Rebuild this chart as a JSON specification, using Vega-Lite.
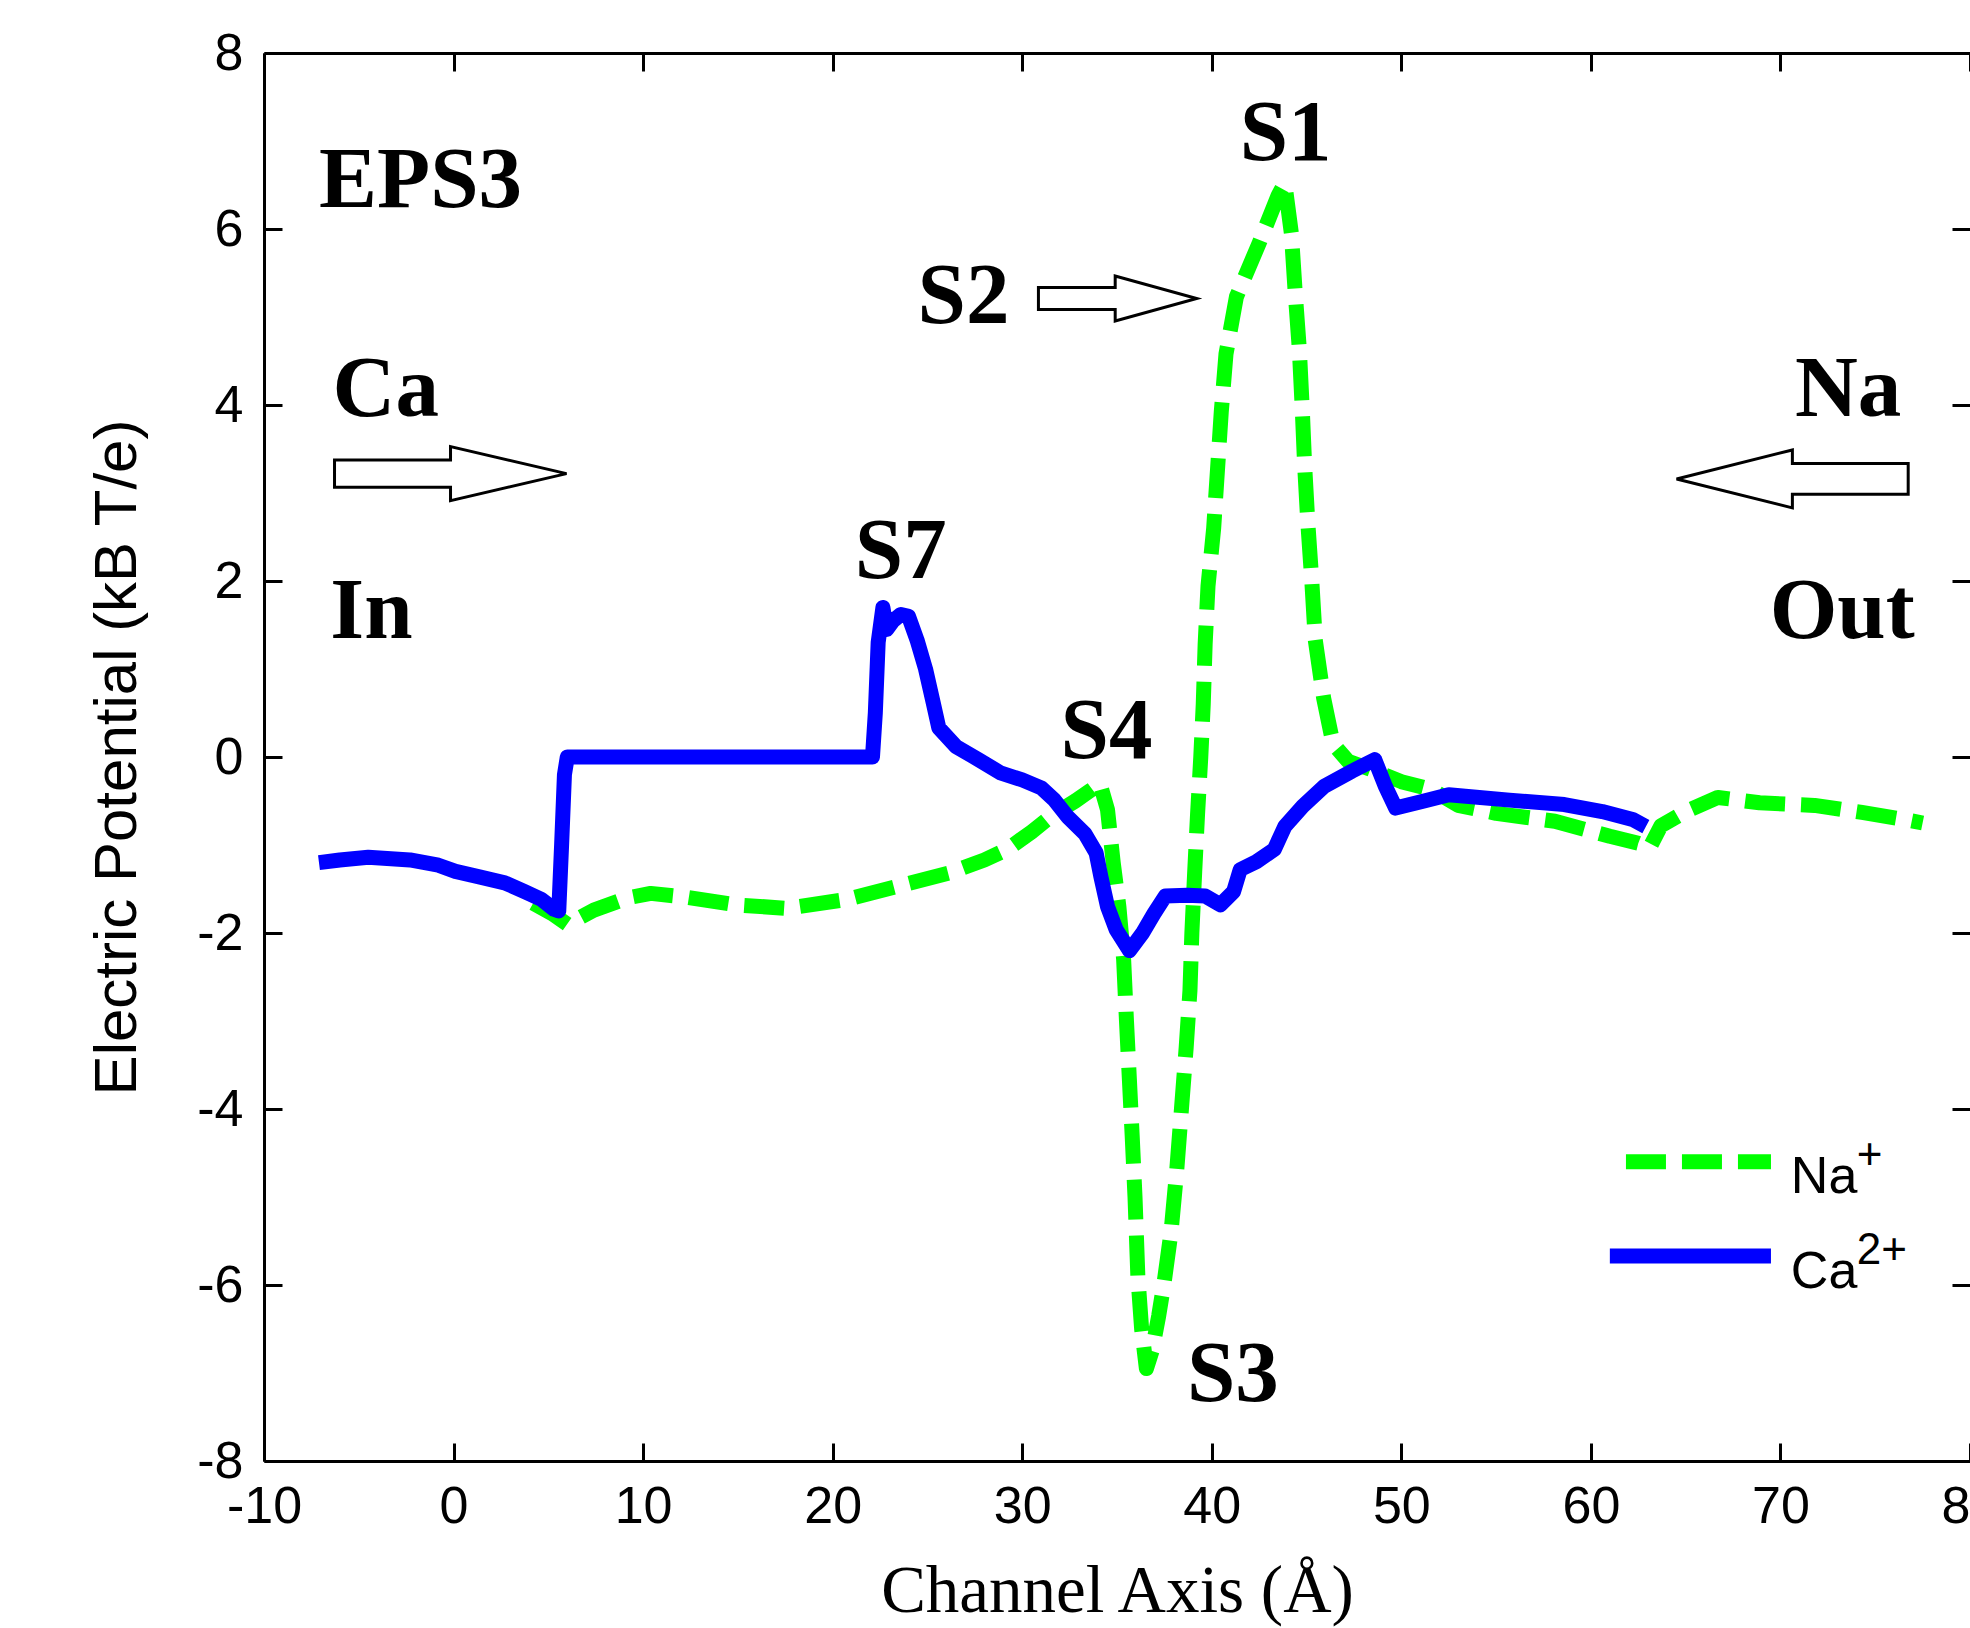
{
  "$schema": "https://vega.github.io/schema/vega-lite/v6.json",
  "width": 1706,
  "height": 1408,
  "autosize": {"type": "none"},
  "padding": {"left": 264, "top": 53, "right": 0, "bottom": 167},
  "background": "white",
  "config": {"view": {"stroke": null}, "axis": {"grid": false}},
  "datasets": {
    "na": [
      {"x": 4.2, "y": -1.66}, {"x": 5.2, "y": -1.78}, {"x": 6.0, "y": -1.9}, {"x": 7.4, "y": -1.74},
      {"x": 9.2, "y": -1.6}, {"x": 10.4, "y": -1.55}, {"x": 12.2, "y": -1.59}, {"x": 14.9, "y": -1.68},
      {"x": 17.6, "y": -1.72}, {"x": 20.7, "y": -1.62}, {"x": 23.4, "y": -1.47}, {"x": 26.1, "y": -1.32},
      {"x": 28.0, "y": -1.17}, {"x": 29.2, "y": -1.05}, {"x": 30.5, "y": -0.85}, {"x": 31.6, "y": -0.66},
      {"x": 32.8, "y": -0.5}, {"x": 33.6, "y": -0.38}, {"x": 34.1, "y": -0.3}, {"x": 34.5, "y": -0.6},
      {"x": 34.8, "y": -1.2}, {"x": 35.1, "y": -1.7}, {"x": 35.35, "y": -2.3}, {"x": 35.5, "y": -3.0},
      {"x": 35.65, "y": -3.65}, {"x": 35.8, "y": -4.3}, {"x": 35.95, "y": -5.0}, {"x": 36.1, "y": -5.9},
      {"x": 36.3, "y": -6.5}, {"x": 36.55, "y": -6.95}, {"x": 36.85, "y": -6.75}, {"x": 37.2, "y": -6.35},
      {"x": 37.5, "y": -5.95}, {"x": 37.85, "y": -5.4}, {"x": 38.15, "y": -4.7}, {"x": 38.4, "y": -4.0},
      {"x": 38.65, "y": -3.3}, {"x": 38.85, "y": -2.65}, {"x": 38.95, "y": -2.0}, {"x": 39.1, "y": -1.3},
      {"x": 39.25, "y": -0.65}, {"x": 39.42, "y": 0.0}, {"x": 39.55, "y": 0.6}, {"x": 39.65, "y": 1.28},
      {"x": 39.8, "y": 1.94}, {"x": 40.1, "y": 2.6}, {"x": 40.3, "y": 3.26}, {"x": 40.5, "y": 3.92},
      {"x": 40.75, "y": 4.58}, {"x": 41.3, "y": 5.23}, {"x": 42.5, "y": 5.84}, {"x": 43.5, "y": 6.38},
      {"x": 43.85, "y": 6.52}, {"x": 44.2, "y": 5.95}, {"x": 44.4, "y": 5.28}, {"x": 44.62, "y": 4.63},
      {"x": 44.77, "y": 3.97}, {"x": 44.9, "y": 3.31}, {"x": 45.07, "y": 2.65}, {"x": 45.28, "y": 1.99},
      {"x": 45.46, "y": 1.33}, {"x": 45.9, "y": 0.67}, {"x": 46.4, "y": 0.15}, {"x": 47.2, "y": -0.05},
      {"x": 48.5, "y": -0.15}, {"x": 50.0, "y": -0.28}, {"x": 51.6, "y": -0.37}, {"x": 53.0, "y": -0.55},
      {"x": 55.0, "y": -0.64}, {"x": 58.1, "y": -0.73}, {"x": 61.0, "y": -0.9}, {"x": 62.5, "y": -0.98},
      {"x": 63.1, "y": -1.03}, {"x": 63.7, "y": -0.78}, {"x": 65.0, "y": -0.62}, {"x": 66.7, "y": -0.46},
      {"x": 68.9, "y": -0.52}, {"x": 71.8, "y": -0.55}, {"x": 74.3, "y": -0.63}, {"x": 76.8, "y": -0.72},
      {"x": 77.5, "y": -0.75}
    ],
    "ca": [
      {"x": -7.1, "y": -1.2}, {"x": -6.0, "y": -1.17}, {"x": -4.5, "y": -1.14}, {"x": -2.3, "y": -1.17},
      {"x": -0.8, "y": -1.23}, {"x": 0.1, "y": -1.3}, {"x": 1.3, "y": -1.36}, {"x": 2.7, "y": -1.43},
      {"x": 3.75, "y": -1.53}, {"x": 4.65, "y": -1.62}, {"x": 5.3, "y": -1.73}, {"x": 5.55, "y": -1.75},
      {"x": 5.7, "y": -1.0}, {"x": 5.85, "y": -0.2}, {"x": 6.0, "y": 0.0}, {"x": 22.1, "y": 0.0},
      {"x": 22.25, "y": 0.5}, {"x": 22.4, "y": 1.3}, {"x": 22.65, "y": 1.7}, {"x": 22.85, "y": 1.45},
      {"x": 23.2, "y": 1.55}, {"x": 23.6, "y": 1.62}, {"x": 24.0, "y": 1.6}, {"x": 24.45, "y": 1.33},
      {"x": 24.9, "y": 1.0}, {"x": 25.3, "y": 0.62}, {"x": 25.6, "y": 0.33}, {"x": 26.5, "y": 0.12},
      {"x": 27.7, "y": -0.03}, {"x": 28.85, "y": -0.18}, {"x": 30.0, "y": -0.26}, {"x": 31.0, "y": -0.35},
      {"x": 31.7, "y": -0.49}, {"x": 32.4, "y": -0.68}, {"x": 33.3, "y": -0.87}, {"x": 33.9, "y": -1.09},
      {"x": 34.15, "y": -1.36}, {"x": 34.5, "y": -1.7}, {"x": 34.95, "y": -1.96}, {"x": 35.66, "y": -2.2},
      {"x": 36.35, "y": -2.0}, {"x": 36.95, "y": -1.78}, {"x": 37.55, "y": -1.58}, {"x": 38.7, "y": -1.57},
      {"x": 39.65, "y": -1.58}, {"x": 40.45, "y": -1.68}, {"x": 41.15, "y": -1.53}, {"x": 41.5, "y": -1.28},
      {"x": 42.35, "y": -1.19}, {"x": 43.3, "y": -1.05}, {"x": 43.85, "y": -0.79}, {"x": 44.8, "y": -0.56},
      {"x": 45.95, "y": -0.33}, {"x": 47.4, "y": -0.16}, {"x": 48.6, "y": -0.03}, {"x": 49.15, "y": -0.33},
      {"x": 49.7, "y": -0.58}, {"x": 51.2, "y": -0.5}, {"x": 52.5, "y": -0.43}, {"x": 55.7, "y": -0.49},
      {"x": 58.6, "y": -0.54}, {"x": 60.6, "y": -0.62}, {"x": 62.2, "y": -0.71}, {"x": 62.9, "y": -0.79}
    ],
    "notes": [
      {"t": "EPS3", "x": -7.1, "y": 6.25},
      {"t": "Ca", "x": -6.38, "y": 3.87},
      {"t": "In", "x": -6.5, "y": 1.35},
      {"t": "S7", "x": 21.17, "y": 2.03},
      {"t": "S4", "x": 32.02, "y": -0.01},
      {"t": "S2", "x": 24.48, "y": 4.93},
      {"t": "S1", "x": 41.47, "y": 6.78},
      {"t": "S3", "x": 38.69, "y": -7.32},
      {"t": "Na", "x": 70.77, "y": 3.87},
      {"t": "Out", "x": 69.43, "y": 1.35}
    ],
    "arrows": [
      {"id": "ca", "x": -0.16, "y": 3.22},
      {"id": "na", "x": 70.63, "y": 3.16},
      {"id": "s2", "x": 35.03, "y": 5.21}
    ],
    "legend": [
      {"s": "Na+", "x": 61.85, "x2": 69.5, "y": -4.6, "lx": 70.55, "ly": -4.96, "lab": "Na", "sup": "+"},
      {"s": "Ca2+", "x": 61.0, "x2": 69.5, "y": -5.67, "lx": 70.55, "ly": -6.03, "lab": "Ca", "sup": "2+"}
    ]
  },
  "layer": [
    {
      "data": {"name": "na"},
      "mark": {"type": "line", "color": "#00ff00", "strokeWidth": 15, "strokeDash": [40, 16], "strokeCap": "butt", "strokeJoin": "round"},
      "encoding": {
        "x": {
          "field": "x", "type": "quantitative",
          "scale": {"domain": [-10, 80], "nice": false, "zero": false},
          "axis": {
            "orient": "bottom",
            "values": [-10, 0, 10, 20, 30, 40, 50, 60, 70, 80],
            "labelExpr": "'' + datum.value",
            "tickSize": -18, "tickWidth": 3, "tickColor": "black",
            "domainColor": "black", "domainWidth": 3,
            "labelFont": "Liberation Sans", "labelFontSize": 52, "labelColor": "black",
            "labelPadding": 38, "labelFlush": false, "labelOverlap": false,
            "title": "Channel Axis (Å)",
            "titleFont": "Liberation Serif", "titleFontSize": 67, "titleFontWeight": "normal",
            "titleColor": "black", "titleBaseline": "alphabetic", "titleY": 150
          }
        },
        "y": {
          "field": "y", "type": "quantitative",
          "scale": {"domain": [-8, 8], "nice": false, "zero": false},
          "axis": {
            "orient": "left",
            "values": [-8, -6, -4, -2, 0, 2, 4, 6, 8],
            "labelExpr": "'' + datum.value",
            "tickSize": -18, "tickWidth": 3, "tickColor": "black",
            "domainColor": "black", "domainWidth": 3,
            "labelFont": "Liberation Sans", "labelFontSize": 52, "labelColor": "black",
            "labelPadding": 39, "labelFlush": false, "labelOverlap": false,
            "title": "Electric Potential (kB T/e)",
            "titleFont": "Liberation Sans", "titleFontSize": 60, "titleFontWeight": "normal",
            "titleColor": "black", "titleAngle": 270, "titleBaseline": "alphabetic",
            "titleX": -129, "titleY": 704
          }
        }
      }
    },
    {
      "data": {"name": "ca"},
      "mark": {"type": "line", "color": "#0000ff", "strokeWidth": 15, "strokeCap": "butt", "strokeJoin": "round"},
      "encoding": {
        "x": {"field": "x", "type": "quantitative", "scale": {"domain": [-10, 80], "nice": false, "zero": false}, "axis": null},
        "y": {"field": "y", "type": "quantitative", "scale": {"domain": [-8, 8], "nice": false, "zero": false}, "axis": null}
      }
    },
    {
      "data": {"name": "arrows"},
      "transform": [{"filter": "datum.id == 'ca'"}],
      "mark": {"type": "point", "shape": "M-1,-0.118L0,-0.118L0,-0.233L1,0L0,0.233L0,0.118L-1,0.118Z", "size": 53824, "filled": true, "fill": "white", "stroke": "black", "strokeWidth": 3, "opacity": 1},
      "encoding": {
        "x": {"field": "x", "type": "quantitative", "scale": {"domain": [-10, 80], "nice": false, "zero": false}, "axis": null},
        "y": {"field": "y", "type": "quantitative", "scale": {"domain": [-8, 8], "nice": false, "zero": false}, "axis": null}
      }
    },
    {
      "data": {"name": "arrows"},
      "transform": [{"filter": "datum.id == 'na'"}],
      "mark": {"type": "point", "shape": "M1,-0.133L0,-0.133L0,-0.25L-1,0L0,0.25L0,0.133L1,0.133Z", "size": 53640, "filled": true, "fill": "white", "stroke": "black", "strokeWidth": 3, "opacity": 1},
      "encoding": {
        "x": {"field": "x", "type": "quantitative", "scale": {"domain": [-10, 80], "nice": false, "zero": false}, "axis": null},
        "y": {"field": "y", "type": "quantitative", "scale": {"domain": [-8, 8], "nice": false, "zero": false}, "axis": null}
      }
    },
    {
      "data": {"name": "arrows"},
      "transform": [{"filter": "datum.id == 's2'"}],
      "mark": {"type": "point", "shape": "M-1,-0.139L-0.03,-0.139L-0.03,-0.284L1,0L-0.03,0.284L-0.03,0.139L-1,0.139Z", "size": 25050, "filled": true, "fill": "white", "stroke": "black", "strokeWidth": 3, "opacity": 1},
      "encoding": {
        "x": {"field": "x", "type": "quantitative", "scale": {"domain": [-10, 80], "nice": false, "zero": false}, "axis": null},
        "y": {"field": "y", "type": "quantitative", "scale": {"domain": [-8, 8], "nice": false, "zero": false}, "axis": null}
      }
    },
    {
      "data": {"name": "notes"},
      "mark": {"type": "text", "font": "Liberation Serif", "fontWeight": "bold", "fontSize": 87, "align": "left", "baseline": "alphabetic", "color": "black"},
      "encoding": {
        "x": {
          "field": "x", "type": "quantitative",
          "scale": {"domain": [-10, 80], "nice": false, "zero": false},
          "axis": {
            "orient": "top", "values": [-10, 0, 10, 20, 30, 40, 50, 60, 70, 80],
            "labels": false, "title": null,
            "tickSize": -18, "tickWidth": 3, "tickColor": "black",
            "domainColor": "black", "domainWidth": 3
          }
        },
        "y": {
          "field": "y", "type": "quantitative",
          "scale": {"domain": [-8, 8], "nice": false, "zero": false},
          "axis": {
            "orient": "right", "values": [-8, -6, -4, -2, 0, 2, 4, 6, 8],
            "labels": false, "title": null, "domain": false,
            "tickSize": -18, "tickWidth": 3, "tickColor": "black"
          }
        },
        "text": {"field": "t", "type": "nominal"}
      }
    },
    {
      "data": {"name": "legend"},
      "mark": {"type": "rule", "strokeWidth": 15, "strokeCap": "butt"},
      "encoding": {
        "x": {"field": "x", "type": "quantitative", "scale": {"domain": [-10, 80], "nice": false, "zero": false}, "axis": null},
        "x2": {"field": "x2"},
        "y": {"field": "y", "type": "quantitative", "scale": {"domain": [-8, 8], "nice": false, "zero": false}, "axis": null},
        "color": {"field": "s", "type": "nominal", "scale": {"domain": ["Na+", "Ca2+"], "range": ["#00ff00", "#0000ff"]}, "legend": null},
        "strokeDash": {"field": "s", "type": "nominal", "scale": {"domain": ["Na+", "Ca2+"], "range": [[40, 16], [1, 0]]}, "legend": null}
      }
    },
    {
      "data": {"name": "legend"},
      "mark": {"type": "text", "font": "Liberation Sans", "fontSize": 52, "align": "left", "baseline": "alphabetic", "color": "black"},
      "encoding": {
        "x": {"field": "lx", "type": "quantitative", "scale": {"domain": [-10, 80], "nice": false, "zero": false}, "axis": null},
        "y": {"field": "ly", "type": "quantitative", "scale": {"domain": [-8, 8], "nice": false, "zero": false}, "axis": null},
        "text": {"field": "lab", "type": "nominal"}
      }
    },
    {
      "data": {"name": "legend"},
      "mark": {"type": "text", "font": "Liberation Sans", "fontSize": 44, "align": "left", "baseline": "alphabetic", "color": "black", "dx": 66, "dy": -24},
      "encoding": {
        "x": {"field": "lx", "type": "quantitative", "scale": {"domain": [-10, 80], "nice": false, "zero": false}, "axis": null},
        "y": {"field": "ly", "type": "quantitative", "scale": {"domain": [-8, 8], "nice": false, "zero": false}, "axis": null},
        "text": {"field": "sup", "type": "nominal"}
      }
    }
  ]
}
